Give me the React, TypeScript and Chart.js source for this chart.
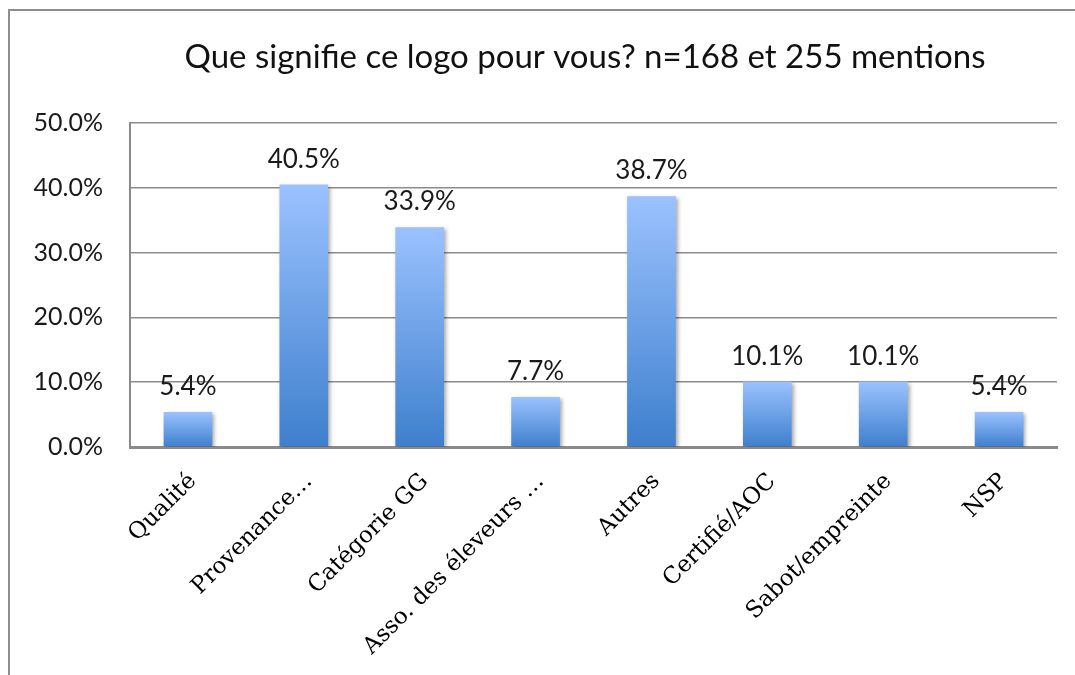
import React, { useEffect, useRef } from "react";
import { Chart, registerables } from "chart.js";

Chart.register(...registerables);

const TITLE = "Que signifie ce logo pour vous? n=168 et 255 mentions";
const categories = [
  "Qualité",
  "Provenance…",
  "Catégorie GG",
  "Asso. des éleveurs …",
  "Autres",
  "Certifié/AOC",
  "Sabot/empreinte",
  "NSP",
];
const values = [5.4, 40.5, 33.9, 7.7, 38.7, 10.1, 10.1, 5.4];
const yMin = 0;
const yMax = 50;
const yStep = 10;

const SANS = 'Lato, "Open Sans", sans-serif';
const SERIF = '"DejaVu Serif", "Liberation Serif", serif';

export default function App() {
  const ref = useRef<HTMLCanvasElement | null>(null);

  useEffect(() => {
    const canvas = ref.current;
    if (!canvas) return;

    const framePlugin = {
      id: "frame",
      beforeDraw(chart: any) {
        const ctx = chart.ctx;
        ctx.save();
        ctx.fillStyle = "#ffffff";
        ctx.fillRect(0, 0, chart.width, chart.height);
        ctx.strokeStyle = "#8e8e8e";
        ctx.lineWidth = 2;
        ctx.beginPath();
        ctx.moveTo(9, chart.height);
        ctx.lineTo(9, 10);
        ctx.lineTo(chart.width, 10);
        ctx.stroke();
        ctx.fillStyle = "#111";
        ctx.font = `33px ${SANS}`;
        ctx.textAlign = "center";
        ctx.textBaseline = "middle";
        ctx.fillText(TITLE, 585, 57);
        ctx.restore();
      },
    };

    const shadowPlugin = {
      id: "barShadow",
      beforeDatasetsDraw(chart: any) {
        const ctx = chart.ctx;
        ctx.save();
        ctx.shadowColor = "rgba(0,0,0,0.35)";
        ctx.shadowBlur = 4;
        ctx.shadowOffsetX = 2;
        ctx.shadowOffsetY = 2;
      },
      afterDatasetsDraw(chart: any) {
        chart.ctx.restore();
      },
    };

    const labelPlugin = {
      id: "valueLabels",
      afterDatasetsDraw(chart: any) {
        const ctx = chart.ctx;
        const meta = chart.getDatasetMeta(0);
        ctx.save();
        ctx.fillStyle = "#1a1a1a";
        ctx.font = `26px ${SANS}`;
        ctx.textAlign = "center";
        ctx.textBaseline = "alphabetic";
        meta.data.forEach((bar: any, i: number) => {
          ctx.fillText(values[i].toFixed(1) + "%", bar.x, bar.y - 17);
        });
        ctx.restore();
      },
    };

    const chart = new Chart(canvas, {
      type: "bar",
      data: {
        labels: categories,
        datasets: [
          {
            data: values,
            backgroundColor: (c: any) => {
              const ch = c.chart;
              const ys = ch.scales && ch.scales.y;
              if (!ch.chartArea || !ys || c.raw === undefined) return "#6a9ee6";
              const top = ys.getPixelForValue(c.raw);
              const base = ys.getPixelForValue(0);
              if (!isFinite(top) || !isFinite(base) || top === base) return "#6a9ee6";
              const g = ch.ctx.createLinearGradient(0, top, 0, base);
              g.addColorStop(0, "#9bc2ff");
              g.addColorStop(1, "#3e7fcd");
              return g;
            },
            borderWidth: 0,
            barPercentage: 0.42,
            categoryPercentage: 1,
          },
        ],
      },
      options: {
        responsive: false,
        animation: false,
        layout: { padding: { top: 123, left: 0, right: 18, bottom: 0 } },
        plugins: {
          legend: { display: false },
          title: { display: false },
          tooltip: { enabled: false },
        },
        scales: {
          x: {
            grid: { display: false, drawTicks: false },
            border: { color: "#8a8a8a", width: 3 },
            ticks: {
              autoSkip: false,
              minRotation: 45,
              maxRotation: 45,
              padding: 21,
              labelOffset: 5,
              color: "#000",
              font: { family: SERIF, size: 23 },
            },
            afterFit(scale: any) {
              scale.height = 228;
            },
          },
          y: {
            min: yMin,
            max: yMax,
            grid: { color: "#8c8c8c", lineWidth: 1.5, drawTicks: false },
            border: { color: "#8a8a8a", width: 2 },
            ticks: {
              stepSize: yStep,
              padding: 27,
              color: "#1a1a1a",
              font: { family: SANS, size: 25 },
              callback: (v: any) => Number(v).toFixed(1) + "%",
            },
            afterFit(scale: any) {
              scale.width = 130;
            },
          },
        },
      },
      plugins: [framePlugin, shadowPlugin, labelPlugin],
    } as any);

    return () => chart.destroy();
  }, []);

  return (
    <div style={{ position: "fixed", left: 0, top: 0, width: 1075, height: 675, background: "#fff" }}>
      <canvas ref={ref} width={1075} height={675} style={{ width: 1075, height: 675, display: "block" }} />
    </div>
  );
}
